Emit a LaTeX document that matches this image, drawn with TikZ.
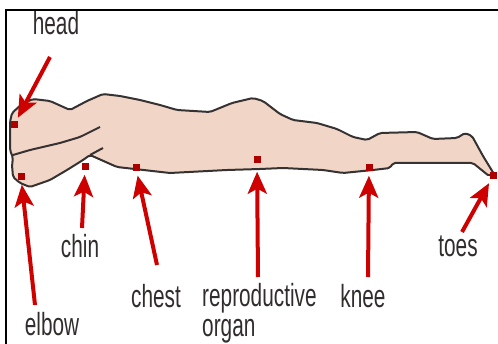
\documentclass[tikz,border=0pt]{standalone}
\usepackage{fontspec}
\setmainfont{Liberation Sans}[FakeStretch=0.65]
\usetikzlibrary{arrows.meta}
\definecolor{skin}{RGB}{241,214,200}
\definecolor{bodyline}{RGB}{55,50,50}
\definecolor{redarrow}{RGB}{206,0,0}
\definecolor{tagtext}{RGB}{50,45,45}
\begin{document}
\begin{tikzpicture}[x=1pt,y=-1pt,
  tag/.style={inner sep=0pt, text=tagtext, font=\fontsize{32}{30}\selectfont, anchor=base},
  spot/.style={fill=redarrow!85!black, minimum size=7pt, inner sep=0pt},
  callout/.style={draw=redarrow, line width=4pt, shorten >=4pt,
    -{Stealth[length=22pt,width=19pt,inset=5pt]}},
  outline/.style={draw=bodyline, line width=2pt, line join=round, rounded corners=2pt}]
\useasboundingbox (0,0) rectangle (498,344);

% frame
\draw[line width=2pt] (6,344) -- (6,10) -- (498,10);

% body silhouette
\path[fill=skin, outline]
  (12,113) -- (22,104) -- (33,99) -- (50,101) -- (70,110) -- (87,101)
  -- (103,94) -- (120,96) -- (140,100) -- (160,105) -- (177,110) -- (210,112)
  -- (232,103) -- (253,98) -- (263,101) -- (280,114) -- (293,120) -- (317,123)
  -- (337,129) -- (353,137) -- (367,140) -- (380,133) -- (417,132) -- (433,139)
  -- (457,138) -- (465,133) -- (472,136) -- (483,156) -- (494,174)
  -- (489,176) -- (473,163) -- (393,163) -- (390,168) -- (373,170) -- (343,173)
  -- (323,170) -- (283,168) -- (260,169) -- (227,170) -- (170,173) -- (117,167)
  -- (90,155) -- (83,160) -- (67,170) -- (50,180) -- (30,187) -- (20,183)
  -- (13,177) -- (12,165) -- (13,158) -- (10,150) -- (10,122) -- cycle;
% forearm
\draw[outline] (13,155) -- (30,150) -- (60,143) -- (80,137) -- (100,127);
\draw[outline] (90,155) -- (103,148);

% marked points
\node[spot] (phead)  at (14,125) {};
\node[spot] (pelbow) at (21,177) {};
\node[spot] (pchin)  at (85,167) {};
\node[spot] (pchest) at (136,168) {};
\node[spot] (porgan) at (257,160) {};
\node[spot] (pknee)  at (369,168) {};
\node[spot] (ptoes)  at (493,176) {};

% labels
\node[tag] (thead)  at (56,35)   {head};
\node[tag] (telbow) at (52,336)  {elbow};
\node[tag] (tchin)  at (80,258)  {chin};
\node[tag] (tchest) at (156,308) {chest};
\node[tag, anchor=base west, align=left] (torgan) at (202,337) {reproductive\\organ};
\node[tag] (tknee)  at (363,308) {knee};
\node[tag] (ttoes)  at (458,257) {toes};

% arrow tails
\coordinate (ahead)  at (50,57);
\coordinate (aelbow) at (35,305);
\coordinate (achin)  at (82,228);
\coordinate (achest) at (157,265);
\coordinate (aorgan) at (258,277);
\coordinate (aknee)  at (368,277);
\coordinate (atoes)  at (462,232);

\draw[callout] (ahead)  -- (phead);
\draw[callout] (aelbow) -- (pelbow);
\draw[callout] (achin)  -- (pchin);
\draw[callout] (achest) -- (pchest);
\draw[callout, shorten >=8pt] (aorgan) -- (porgan);
\draw[callout] (aknee)  -- (pknee);
\draw[callout] (atoes)  -- (ptoes);
\end{tikzpicture}
\end{document}
